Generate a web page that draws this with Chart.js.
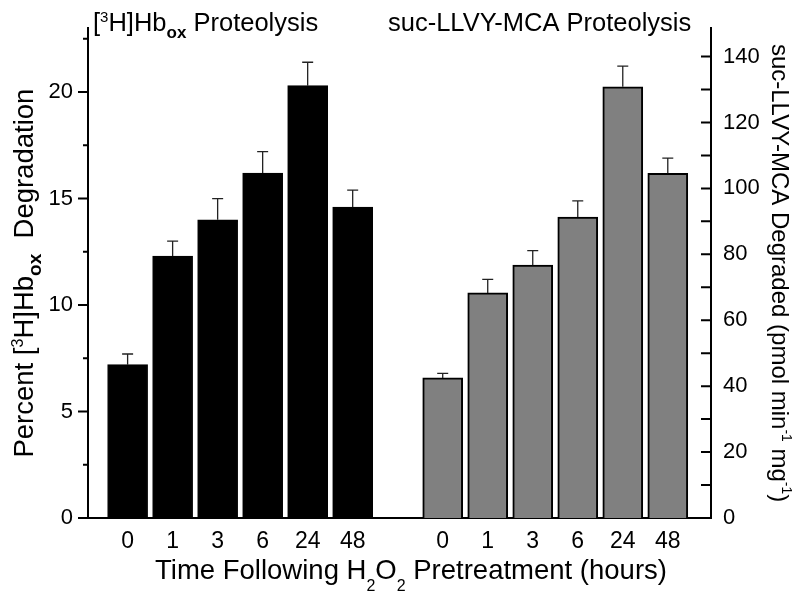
<!DOCTYPE html>
<html>
<head>
<meta charset="utf-8">
<script src="https://cdn.jsdelivr.net/npm/chart.js@4.4.0/dist/chart.umd.min.js"></script>
<style>
  html, body { margin: 0; background: #fff; }
  #wrap { width: 800px; height: 596px; }
</style>
</head>
<body>
<div id="wrap"><canvas id="chart"></canvas></div>
<script>
// time points (hours after H2O2)
const hours = ['0', '1', '3', '6', '24', '48'];

// [3H]Hb_ox proteolysis, percent degradation (left axis)
const hbValues = [7.2, 12.3, 14.0, 16.2, 20.3, 14.6];
const hbErrors = [0.5, 0.7, 1.0, 1.0, 1.1, 0.8];

// suc-LLVY-MCA proteolysis, pmol/min/mg (right axis)
const mcaValues = [42.5, 68.3, 76.7, 91.3, 130.8, 104.6];
const mcaErrors = [1.4, 4.1, 4.4, 4.9, 6.3, 4.6];

// axis ticks
const leftTicks  = [0, 5, 10, 15, 20];
const leftMinor  = [2.5, 7.5, 12.5, 17.5, 22.5];
const rightTicks = [0, 20, 40, 60, 80, 100, 120, 140];
const rightMinor = [10, 30, 50, 70, 90, 110, 130];

const FONT = "'Liberation Sans', Arial, sans-serif";

// one empty slot between the two groups
const gapSlots = 1;
const hbPos  = hours.map((h, i) => i);
const mcaPos = hours.map((h, i) => i + hours.length + gapSlots);

function labelFor(v) {
  const i = hbPos.indexOf(v);
  if (i >= 0) return hours[i];
  const j = mcaPos.indexOf(v);
  return j >= 0 ? hours[j] : '';
}

// draws a string made of parts (sub/superscripts) at x,y, rotated
function drawRich(ctx, parts, x, y, rot, align) {
  ctx.save();
  ctx.translate(x, y);
  ctx.rotate(rot);
  ctx.textBaseline = 'alphabetic';
  ctx.textAlign = 'left';
  let total = 0;
  parts.forEach(p => {
    ctx.font = (p.bold ? 'bold ' : '') + p.size + 'px ' + FONT;
    p.w = ctx.measureText(p.t).width;
    total += p.w;
  });
  let cx = align === 'center' ? -total / 2 : 0;
  parts.forEach(p => {
    ctx.font = (p.bold ? 'bold ' : '') + p.size + 'px ' + FONT;
    ctx.fillStyle = '#000';
    ctx.fillText(p.t, cx, p.dy || 0);
    cx += p.w;
  });
  ctx.restore();
}

// error bars (upper only)
const errorBars = {
  id: 'errorBars',
  afterDatasetsDraw(chart) {
    const ctx = chart.ctx;
    chart.data.datasets.forEach((ds, di) => {
      const meta = chart.getDatasetMeta(di);
      const yScale = chart.scales[ds.yAxisID];
      meta.data.forEach((bar, i) => {
        const top = yScale.getPixelForValue(ds.data[i].y + ds.errors[i]);
        ctx.save();
        ctx.strokeStyle = '#222';
        ctx.lineWidth = 1.3;
        ctx.beginPath();
        ctx.moveTo(bar.x, bar.y);
        ctx.lineTo(bar.x, top);
        ctx.moveTo(bar.x - 5.5, top);
        ctx.lineTo(bar.x + 5.5, top);
        ctx.stroke();
        ctx.restore();
      });
    });
  }
};

// axis tick marks + titles
const decorations = {
  id: 'decorations',
  afterDraw(chart) {
    const ctx = chart.ctx;
    const { left, right, top, bottom } = chart.chartArea;
    const yl = chart.scales.y, yr = chart.scales.y2;
    ctx.save();
    ctx.strokeStyle = '#000';
    ctx.lineWidth = 2;
    ctx.beginPath();
    leftTicks.forEach(v => { const p = yl.getPixelForValue(v); ctx.moveTo(left - 10, p); ctx.lineTo(left, p); });
    leftMinor.forEach(v => { const p = yl.getPixelForValue(v); ctx.moveTo(left - 5, p); ctx.lineTo(left, p); });
    rightTicks.concat(rightMinor).forEach(v => { const p = yr.getPixelForValue(v); ctx.moveTo(right - 10, p); ctx.lineTo(right, p); });
    ctx.stroke();
    ctx.restore();

    const mid = (top + bottom) / 2;
    drawRich(ctx, [
      { t: '[', size: 25.5 }, { t: '3', size: 15, dy: -9 }, { t: 'H]Hb', size: 25.5 },
      { t: 'ox', size: 17, bold: true, dy: 7 }, { t: ' Proteolysis', size: 25.5 }
    ], 93, 31, 0, 'left');
    drawRich(ctx, [{ t: 'suc-LLVY-MCA Proteolysis', size: 25.5 }], 388, 31, 0, 'left');
    drawRich(ctx, [
      { t: 'Time Following H', size: 27.5 }, { t: '2', size: 16, dy: 12 }, { t: 'O', size: 27.5 },
      { t: '2', size: 16, dy: 12 }, { t: ' Pretreatment (hours)', size: 27.5 }
    ], 411, 579, 0, 'center');
    drawRich(ctx, [
      { t: 'Percent [', size: 27.5 }, { t: '3', size: 16, dy: -10 }, { t: 'H]Hb', size: 27.5 },
      { t: 'ox', size: 19, bold: true, dy: 8 }, { t: '  Degradation', size: 27.5 }
    ], 33, mid, -Math.PI / 2, 'center');
    drawRich(ctx, [
      { t: 'suc-LLVY-MCA Degraded (pmol min', size: 24 }, { t: '-1', size: 14, dy: -10 },
      { t: ' mg', size: 24 }, { t: '-1', size: 14, dy: -10 }, { t: ')', size: 24 }
    ], 772, mid, Math.PI / 2, 'center');
  }
};

const axisBorder = { display: true, color: '#000', width: 2 };

new Chart(document.getElementById('chart'), {
  type: 'bar',
  data: {
    datasets: [
      {
        label: '[3H]Hb ox Proteolysis',
        data: hbValues.map((v, i) => ({ x: hbPos[i], y: v })),
        errors: hbErrors,
        yAxisID: 'y',
        backgroundColor: '#000',
        borderColor: '#000',
        borderWidth: 1,
        barThickness: 40,
        grouped: false
      },
      {
        label: 'suc-LLVY-MCA Proteolysis',
        data: mcaValues.map((v, i) => ({ x: mcaPos[i], y: v })),
        errors: mcaErrors,
        yAxisID: 'y2',
        backgroundColor: '#808080',
        borderColor: '#000',
        borderWidth: 2,
        barThickness: 40,
        grouped: false
      }
    ]
  },
  options: {
    responsive: true,
    maintainAspectRatio: false,
    animation: false,
    layout: { padding: { top: 20 } },
    plugins: { legend: { display: false }, tooltip: { enabled: false } },
    scales: {
      x: {
        type: 'linear',
        offset: false,
        min: -0.88,
        max: 12.96,
        grid: { display: false, drawTicks: false },
        border: axisBorder,
        afterBuildTicks: s => { s.ticks = hbPos.concat(mcaPos).map(v => ({ value: v })); },
        afterFit: s => { s.height = 78; },
        ticks: {
          autoSkip: false, maxRotation: 0, padding: 10, color: '#000',
          font: { family: FONT, size: 23 },
          callback: v => labelFor(v)
        }
      },
      y: {
        position: 'left',
        min: 0,
        max: 23,
        grid: { display: false, drawTicks: false },
        border: axisBorder,
        afterBuildTicks: s => { s.ticks = leftTicks.map(v => ({ value: v })); },
        afterFit: s => { s.width = 88; },
        ticks: { padding: 15, color: '#000', font: { family: FONT, size: 22 } }
      },
      y2: {
        position: 'right',
        min: 0,
        max: 148.6,
        grid: { display: false, drawTicks: false },
        border: axisBorder,
        afterBuildTicks: s => { s.ticks = rightTicks.map(v => ({ value: v })); },
        afterFit: s => { s.width = 89; },
        ticks: { padding: 12, color: '#000', font: { family: FONT, size: 22 } }
      }
    }
  },
  plugins: [errorBars, decorations]
});
</script>
</body>
</html>
